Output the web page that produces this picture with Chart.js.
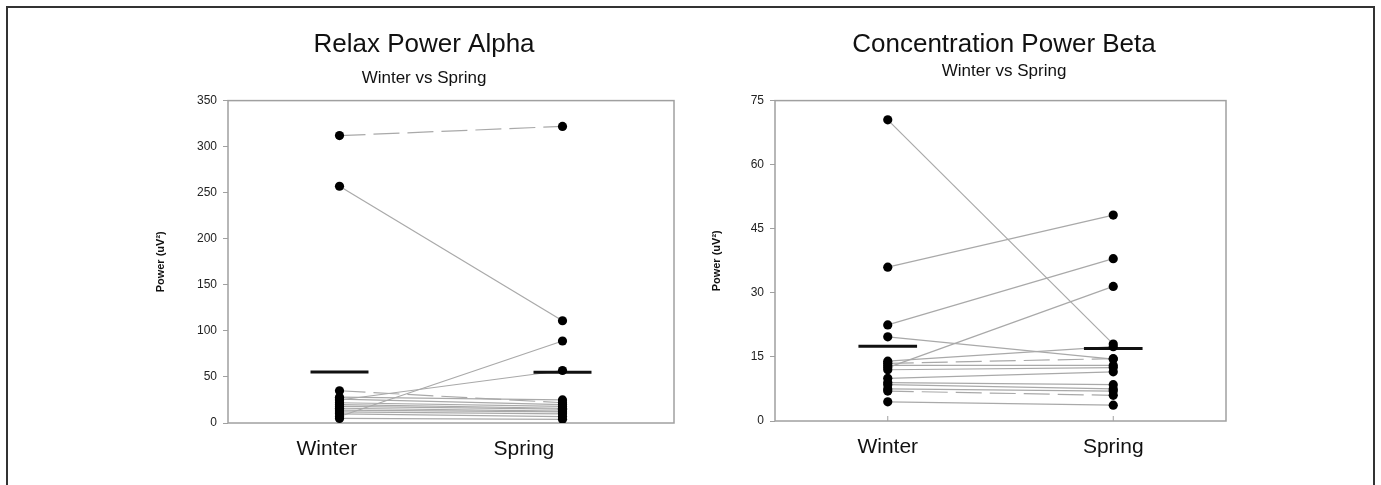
<!DOCTYPE html>
<html>
<head>
<meta charset="utf-8">
<script src="https://cdn.jsdelivr.net/npm/chart.js@4.4.0/dist/chart.umd.min.js"></script>
<style>
  body { margin: 0; background: #fff; width: 1381px; height: 485px; overflow: hidden; position: relative; }
  .frame { position: absolute; left: 6px; top: 6px; width: 1365px; height: 520px; border: 2px solid #333; }
  canvas { position: absolute; top: 0; }
  #alpha { left: 130px; }
  #beta { left: 690px; }
</style>
</head>
<body>
<div class="frame"></div>
<canvas id="alpha" width="588" height="485"></canvas>
<canvas id="beta" width="628" height="485"></canvas>
<script>
const seasons = ["Winter", "Spring"];

// Relax Power Alpha, one entry per subject (winter -> spring)
const alphaWinter = [312, 257, 35, 7, 25, 28, 26, 22, 20, 18, 16, 14, 12, 10, 5];
const alphaSpring = [322, 111, 22, 89, 57, 25, 20, 18, 16, 15, 13, 12, 10, 7, 4];
const alphaMeans = [55.5, 55];
const alphaTicks = [0, 50, 100, 150, 200, 250, 300, 350];

// Concentration Power Beta
const betaWinter = [70.5, 36, 22.5, 12.5, 19.7, 14, 13.5, 13, 12, 10, 9, 8.5, 7.5, 7, 4.5];
const betaSpring = [18, 48.2, 38, 31.5, 14.5, 17.4, 14.6, 13, 12.5, 11.5, 8.5, 7.5, 7, 6, 3.7];
const betaMeans = [17.5, 17];
const betaTicks = [0, 15, 30, 45, 60, 75];

const FONT = "'Liberation Sans', Arial, sans-serif";
const MEAN_HALF = 0.13;
const LINE_GREY = "#a9a9a9";

const boxFrame = {
  id: "boxFrame",
  beforeDatasetsDraw(chart) {
    const { ctx, chartArea: a, scales } = chart;
    ctx.save();
    ctx.strokeStyle = "#a0a0a0";
    ctx.lineWidth = 1.5;
    ctx.strokeRect(a.left, a.top, a.right - a.left, a.bottom - a.top);
    ctx.lineWidth = 1;
    seasons.forEach((s, i) => {
      const px = scales.x.getPixelForValue(i + 1);
      ctx.beginPath();
      ctx.moveTo(px, a.bottom);
      ctx.lineTo(px, a.bottom - 5);
      ctx.stroke();
    });
    ctx.restore();
  },
};

function buildConfig(p) {
  const pairLines = p.winter.map((w, i) => ({
    data: [{ x: 1, y: w }, { x: 2, y: p.spring[i] }],
    showLine: true,
    borderColor: LINE_GREY,
    borderWidth: 1.2,
    borderDash: p.dashed.includes(i) ? [26, 8] : [],
    pointRadius: 0,
    order: 2,
  }));
  const meanLines = p.means.map((m, i) => ({
    data: [{ x: i + 1 - MEAN_HALF, y: m }, { x: i + 1 + MEAN_HALF, y: m }],
    showLine: true,
    borderColor: "#111",
    borderWidth: 3,
    pointRadius: 0,
    order: 1,
  }));
  const dots = {
    data: [
      ...p.winter.map((w) => ({ x: 1, y: w })),
      ...p.spring.map((s) => ({ x: 2, y: s })),
    ],
    pointRadius: 4.6,
    pointBackgroundColor: "#000",
    pointBorderWidth: 0,
    order: 0,
  };

  return {
    type: "scatter",
    data: { datasets: [...pairLines, ...meanLines, dots] },
    plugins: [boxFrame],
    options: {
      responsive: false,
      animation: false,
      events: [],
      layout: { padding: { top: 29, right: 0, bottom: 0, left: 0 } },
      plugins: {
        legend: { display: false },
        tooltip: { enabled: false },
        title: {
          display: true,
          text: p.title,
          color: "#111",
          font: { family: FONT, size: 26, weight: "normal" },
          padding: { top: 0, bottom: p.titleGap },
        },
        subtitle: {
          display: true,
          text: "Winter vs Spring",
          color: "#111",
          font: { family: FONT, size: 17 },
          padding: { top: 0, bottom: p.subGap },
        },
      },
      scales: {
        x: {
          type: "linear",
          min: 0.5,
          max: 2.5,
          // label anchors follow where the source figure printed the names
          afterBuildTicks: (axis) => { axis.ticks = p.labelAt.map((v) => ({ value: v })); },
          afterFit: (axis) => { axis.height = p.xHeight; },
          ticks: {
            color: "#111",
            font: { family: FONT, size: 21 },
            padding: 6,
            callback: (v, i) => seasons[i],
          },
          grid: { display: false },
          border: { display: false },
        },
        y: {
          min: 0,
          max: p.ticks[p.ticks.length - 1],
          afterBuildTicks: (axis) => { axis.ticks = p.ticks.map((v) => ({ value: v })); },
          afterFit: (axis) => { axis.width = p.yWidth; },
          ticks: {
            color: "#222",
            font: { family: FONT, size: 12 },
            padding: 6,
          },
          grid: { drawOnChartArea: false, drawTicks: true, tickLength: 5, color: "#a0a0a0" },
          border: { display: false },
          title: {
            display: true,
            text: "Power (uV²)",
            color: "#111",
            font: { family: FONT, size: 11, weight: "bold" },
            padding: { top: p.yTitlePad, bottom: 0 },
          },
        },
        // empty right-hand gutter so the titles centre on the whole canvas
        gutter: {
          axis: "y",
          position: "right",
          afterFit: (axis) => { axis.width = p.rightGap; },
          ticks: { display: false },
          grid: { display: false },
          border: { display: false },
        },
      },
    },
  };
}

new Chart(document.getElementById("alpha"), buildConfig({
  title: "Relax Power Alpha",
  winter: alphaWinter,
  spring: alphaSpring,
  means: alphaMeans,
  ticks: alphaTicks,
  labelAt: [0.943, 1.827],
  dashed: [0, 2],
  rightGap: 44,
  yWidth: 98,
  yTitlePad: 24,
  xHeight: 62,
  titleGap: 8,
  subGap: 12,
}));

new Chart(document.getElementById("beta"), buildConfig({
  title: "Concentration Power Beta",
  winter: betaWinter,
  spring: betaSpring,
  means: betaMeans,
  ticks: betaTicks,
  labelAt: [1, 2],
  dashed: [6, 13],
  rightGap: 92,
  yWidth: 85,
  yTitlePad: 20,
  xHeight: 64,
  titleGap: 1,
  subGap: 19,
}));
</script>
</body>
</html>
